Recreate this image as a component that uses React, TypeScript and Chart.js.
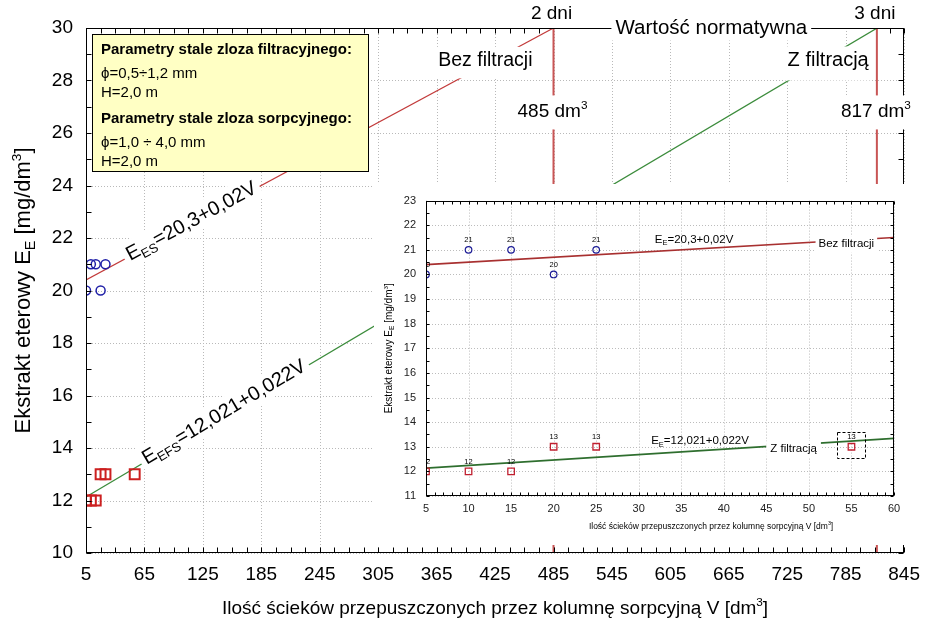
import React, { useEffect, useRef } from "react";
import { Chart, registerables } from "chart.js";

Chart.register(...registerables);

const FONT = "'Liberation Sans', Arial, Helvetica, sans-serif";

// ---------------- data ----------------
const volumeNoFilter = [5, 10, 15, 20, 25];
const extractNoFilter = [20, 21, 21, 20, 21];
const volumeFilter = [5, 10, 15, 20, 25, 55];
const extractFilter = [12, 12, 12, 13, 13, 13];
const fitNoFilter = [20.3, 0.02]; // E = a + b·V
const fitFilter = [12.021, 0.022];
const normativeValue = 30;
const limitVolumes = [485, 817];
const limitDays = ["2 dni", "3 dni"];
const outlierIndex = 5;

const mainXRange = [5, 845];
const mainXStep = 60;
const mainYRange = [10, 30];
const mainYStep = 2;
const insetXRange = [5, 60];
const insetXStep = 5;
const insetYRange = [11, 23];
const insetYStep = 1;

const xTitle = "Ilość ścieków przepuszczonych przez kolumnę sorpcyjną V [dm";
const yTitle = "Ekstrakt eterowy E";
const boxLines = [
  { t: "Parametry stale zloza filtracyjnego:", bold: true },
  { t: "ϕ=0,5÷1,2 mm", bold: false },
  { t: "H=2,0 m", bold: false },
  { t: "Parametry stale zloza sorpcyjnego:", bold: true },
  { t: "ϕ=1,0 ÷ 4,0 mm", bold: false },
  { t: "H=2,0 m", bold: false },
];

// ---------------- helpers ----------------
const fitAt = (fit: number[], v: number) => fit[0] + fit[1] * v;
const fitLine = (fit: number[], v0: number, v1: number) => [
  { x: v0, y: fitAt(fit, v0) },
  { x: v1, y: fitAt(fit, v1) },
];
const pts = (xs: number[], ys: number[]) => xs.map((x, i) => ({ x, y: ys[i] }));
const fmt = (n: number) => String(n).replace(".", ",");

type Seg = { t: string; k?: number; dy?: number };
const SUB = (t: string): Seg => ({ t, k: 0.65, dy: 0.22 });
const SUP = (t: string): Seg => ({ t, k: 0.62, dy: -0.42 });

function setFont(ctx: any, size: number, weight = "") {
  ctx.font = `${weight} ${size}px ${FONT}`.trim();
}
function segsWidth(ctx: any, segs: Seg[], size: number, weight = "") {
  let w = 0;
  for (const s of segs) {
    setFont(ctx, size * (s.k ?? 1), weight);
    w += ctx.measureText(s.t).width;
  }
  return w;
}
function drawSegs(ctx: any, segs: Seg[], x: number, y: number, size: number, align = "center", weight = "") {
  const w = segsWidth(ctx, segs, size, weight);
  let cx = align === "center" ? x - w / 2 : align === "right" ? x - w : x;
  ctx.textAlign = "left";
  ctx.textBaseline = "alphabetic";
  for (const s of segs) {
    setFont(ctx, size * (s.k ?? 1), weight);
    ctx.fillText(s.t, cx, y + (s.dy ?? 0) * size);
    cx += ctx.measureText(s.t).width;
  }
  return w;
}
// text with white background box; baseline at y
function boxedText(ctx: any, segs: Seg[], x: number, y: number, size: number, padX = 3, padTop = 3, padBottom = 3) {
  const w = segsWidth(ctx, segs, size);
  ctx.fillStyle = "#fff";
  ctx.fillRect(x - w / 2 - padX, y - size * 0.78 - padTop, w + 2 * padX, size * 1.0 + padTop + padBottom);
  ctx.fillStyle = "#000";
  drawSegs(ctx, segs, x, y, size);
}
function seg(ctx: any, x1: number, y1: number, x2: number, y2: number) {
  ctx.beginPath();
  ctx.moveTo(x1, y1);
  ctx.lineTo(x2, y2);
  ctx.stroke();
}
function drawGrid(ctx: any, a: any, x: any, y: any, color: string) {
  ctx.save();
  ctx.strokeStyle = color;
  ctx.lineWidth = 1;
  ctx.setLineDash([1, 2]);
  x.ticks.forEach((t: any) => {
    const px = Math.round(x.getPixelForValue(t.value)) + 0.5;
    seg(ctx, px, a.top, px, a.bottom);
  });
  y.ticks.forEach((t: any) => {
    const py = Math.round(y.getPixelForValue(t.value)) + 0.5;
    seg(ctx, a.left, py, a.right, py);
  });
  ctx.restore();
}

// ---------------- main chart ----------------
const mainPlugin = {
  id: "mainDecor",
  beforeDatasetsDraw(chart: any) {
    const { ctx, chartArea: a, scales } = chart;
    drawGrid(ctx, a, scales.x, scales.y, "#b9b9b9");
  },
  afterDatasetsDraw(chart: any) {
    const { ctx, chartArea: a, scales } = chart;
    const x = scales.x, y = scales.y;
    ctx.save();
    ctx.strokeStyle = "#000";
    ctx.lineWidth = 1;
    const L = Math.round(a.left) + 0.5, R = Math.round(a.right) - 0.5;
    const T = Math.round(a.top) + 0.5, B = Math.round(a.bottom) - 0.5;
    ctx.strokeRect(L, T, R - L, B - T);
    for (let v = mainYRange[0]; v <= mainYRange[1]; v += 1) {
      const py = Math.round(y.getPixelForValue(v)) + 0.5;
      seg(ctx, L, py, L + 5, py);
      seg(ctx, R - 5, py, R, py);
    }
    for (let v = mainXRange[0]; v <= mainXRange[1]; v += 15) {
      const px = Math.round(x.getPixelForValue(v)) + 0.5;
      seg(ctx, px, B, px, B - 5);
      if (v < limitVolumes[0] || v > limitVolumes[1]) seg(ctx, px, T, px, T + 5);
    }

    // top annotations
    ctx.fillStyle = "#000";
    limitDays.forEach((d, i) => {
      drawSegs(ctx, [{ t: d }], x.getPixelForValue(limitVolumes[i]) - 2, 19, 19);
    });
    boxedText(ctx, [{ t: "Wartość normatywna" }], x.getPixelForValue(647), 34, 20.5, 4, 1, 2);
    limitVolumes.forEach((v) => {
      boxedText(ctx, [{ t: `${v} dm` }, SUP("3")], x.getPixelForValue(v) - 1, y.getPixelForValue(26.6), 19, 3, 7, 8);
    });
    boxedText(ctx, [{ t: "Bez filtracji" }], x.getPixelForValue(415), y.getPixelForValue(28.55), 19.5, 3, 4, 8);
    boxedText(ctx, [{ t: "Z filtracją" }], x.getPixelForValue(767), y.getPixelForValue(28.55), 20, 3, 4, 10);

    // rotated equation labels
    const rot = (fit: number[], v: number, segs: Seg[], off: number, size: number) => {
      const p1x = x.getPixelForValue(mainXRange[0]), p1y = y.getPixelForValue(fitAt(fit, mainXRange[0]));
      const p2x = x.getPixelForValue(v + 100), p2y = y.getPixelForValue(fitAt(fit, v + 100));
      const ang = Math.atan2(p1y - p2y, p2x - p1x);
      ctx.save();
      ctx.translate(x.getPixelForValue(v), y.getPixelForValue(fitAt(fit, v)));
      ctx.rotate(-ang);
      const w = segsWidth(ctx, segs, size);
      ctx.fillStyle = "#fff";
      ctx.fillRect(-w / 2 - 4, -off - size * 0.62, w + 8, size * 1.3);
      ctx.fillStyle = "#000";
      drawSegs(ctx, segs, 0, -off + size * 0.36, size);
      ctx.restore();
    };
    rot(fitNoFilter, 114, [{ t: "E" }, SUB("ES"), { t: `=${fmt(fitNoFilter[0])}+${fmt(fitNoFilter[1])}V` }], 3, 20);
    rot(fitFilter, 148, [{ t: "E" }, SUB("EFS"), { t: `=${fmt(fitFilter[0])}+${fmt(fitFilter[1])}V` }], 4, 20);

    // info box
    ctx.fillStyle = "#ffffc4";
    ctx.fillRect(92, 34, 276, 137);
    ctx.strokeStyle = "#000";
    ctx.strokeRect(92.5, 34.5, 276, 137);
    ctx.fillStyle = "#000";
    const baselines = [54, 78, 97, 123, 147, 166];
    boxLines.forEach((l, i) => {
      drawSegs(ctx, [{ t: l.t }], 101, baselines[i], 15, "left", l.bold ? "bold" : "");
    });

    // axis titles
    drawSegs(ctx, [{ t: xTitle }, SUP("3"), { t: "]" }], (a.left + a.right) / 2, 614, 19);
    ctx.save();
    ctx.translate(30, (a.top + a.bottom) / 2);
    ctx.rotate(-Math.PI / 2);
    drawSegs(ctx, [{ t: yTitle }, SUB("E"), { t: " [mg/dm" }, SUP("3"), { t: "]" }], 0, 0, 22);
    ctx.restore();
    ctx.restore();
  },
};

function mainConfig(): any {
  return {
    type: "scatter",
    data: {
      datasets: [
        {
          data: pts(volumeNoFilter, extractNoFilter),
          pointStyle: "circle",
          pointRadius: 4.5,
          pointBorderColor: "#2020a8",
          pointBackgroundColor: "rgba(0,0,0,0)",
          pointBorderWidth: 1.5,
          clip: 0,
        },
        {
          data: pts(volumeFilter, extractFilter),
          pointStyle: "rect",
          pointRadius: 7,
          pointBorderColor: "#cc2020",
          pointBackgroundColor: "rgba(0,0,0,0)",
          pointBorderWidth: 2,
          clip: 0,
        },
        {
          data: fitLine(fitNoFilter, mainXRange[0], limitVolumes[0]),
          showLine: true,
          borderColor: "#c23a3a",
          borderWidth: 1.2,
          pointRadius: 0,
        },
        {
          data: fitLine(fitFilter, mainXRange[0], limitVolumes[1]),
          showLine: true,
          borderColor: "#3c8c3c",
          borderWidth: 1.2,
          pointRadius: 0,
        },
        ...limitVolumes.map((v) => ({
          data: [
            { x: v, y: mainYRange[0] },
            { x: v, y: normativeValue },
          ],
          showLine: true,
          borderColor: "#c85555",
          borderWidth: 2,
          pointRadius: 0,
        })),
      ],
    },
    options: {
      responsive: false,
      animation: false,
      devicePixelRatio: 1,
      layout: { padding: { left: 0, top: 28, right: 17, bottom: 0 } },
      plugins: { legend: { display: false }, tooltip: { enabled: false } },
      scales: {
        x: {
          type: "linear",
          min: mainXRange[0],
          max: mainXRange[1],
          ticks: {
            stepSize: mainXStep,
            autoSkip: false,
            maxRotation: 0,
            color: "#000",
            padding: 10,
            font: { family: FONT, size: 19 },
          },
          grid: { display: false, drawTicks: false },
          border: { display: false },
          afterFit: (s: any) => {
            s.height = 73;
          },
        },
        y: {
          type: "linear",
          min: mainYRange[0],
          max: mainYRange[1],
          ticks: {
            stepSize: mainYStep,
            color: "#000",
            padding: 13,
            font: { family: FONT, size: 19 },
          },
          grid: { display: false, drawTicks: false },
          border: { display: false },
          afterFit: (s: any) => {
            s.width = 86;
          },
        },
      },
    },
    plugins: [mainPlugin],
  };
}

// ---------------- inset chart ----------------
const insetPlugin = {
  id: "insetDecor",
  beforeDatasetsDraw(chart: any) {
    const { ctx, chartArea: a, scales } = chart;
    drawGrid(ctx, a, scales.x, scales.y, "#bcbcbc");
  },
  afterDatasetsDraw(chart: any) {
    const { ctx, chartArea: a, scales } = chart;
    const x = scales.x, y = scales.y;
    ctx.save();
    ctx.strokeStyle = "#000";
    ctx.lineWidth = 1;
    const L = Math.round(a.left) + 0.5, R = Math.round(a.right) - 0.5;
    const T = Math.round(a.top) + 0.5, B = Math.round(a.bottom) - 0.5;
    ctx.strokeRect(L, T, R - L, B - T);
    for (let v = insetYRange[0]; v <= insetYRange[1]; v += 0.5) {
      const py = Math.round(y.getPixelForValue(v)) + 0.5;
      seg(ctx, L, py, L + 3, py);
      seg(ctx, R - 3, py, R, py);
    }
    for (let v = insetXRange[0]; v <= insetXRange[1]; v += 1) {
      const px = Math.round(x.getPixelForValue(v)) + 0.5;
      seg(ctx, px, B, px, B - 3);
      seg(ctx, px, T, px, T + 3);
    }

    // value labels above points (clipped to the plot)
    ctx.save();
    ctx.beginPath();
    ctx.rect(a.left, a.top, a.right - a.left, a.bottom - a.top);
    ctx.clip();
    ctx.fillStyle = "#000";
    const lab = (xs: number[], ys: number[]) =>
      xs.forEach((v, i) => {
        drawSegs(ctx, [{ t: String(ys[i]) }], x.getPixelForValue(v), y.getPixelForValue(ys[i]) - 7.5, 7.5);
      });
    lab(volumeNoFilter, extractNoFilter);
    lab(volumeFilter, extractFilter);
    ctx.restore();

    // dashed box around the outlier
    const ox = x.getPixelForValue(volumeFilter[outlierIndex]);
    const oy = y.getPixelForValue(extractFilter[outlierIndex]);
    ctx.save();
    ctx.setLineDash([3, 2]);
    ctx.strokeRect(Math.round(ox - 14) + 0.5, Math.round(oy - 15) + 0.5, 28, 26);
    ctx.restore();

    // equation labels
    ctx.fillStyle = "#000";
    drawSegs(ctx, [{ t: "E" }, SUB("E"), { t: `=${fmt(fitNoFilter[0])}+${fmt(fitNoFilter[1])}V` }], x.getPixelForValue(36.5), y.getPixelForValue(21.45) + 4, 11.5);
    boxedText(ctx, [{ t: "Bez filtracji" }], x.getPixelForValue(54.4), y.getPixelForValue(21.27) + 4, 11.5, 3, 2, 3);
    drawSegs(ctx, [{ t: "E" }, SUB("E"), { t: `=${fmt(fitFilter[0])}+${fmt(fitFilter[1])}V` }], x.getPixelForValue(37.2), y.getPixelForValue(13.27) + 4, 11.5);
    boxedText(ctx, [{ t: "Z filtracją" }], x.getPixelForValue(48.2), y.getPixelForValue(12.95) + 4, 11.5, 4, 2, 3);

    // titles
    drawSegs(ctx, [{ t: xTitle }, SUP("3"), { t: "]" }], x.getPixelForValue(38.5), 345, 8.5);
    ctx.save();
    ctx.translate(18, (a.top + a.bottom) / 2);
    ctx.rotate(-Math.PI / 2);
    drawSegs(ctx, [{ t: yTitle }, SUB("E"), { t: " [mg/dm" }, SUP("3"), { t: "]" }], 0, 0, 10);
    ctx.restore();
    ctx.restore();
  },
};

function insetConfig(): any {
  return {
    type: "scatter",
    data: {
      datasets: [
        {
          data: pts(volumeNoFilter, extractNoFilter),
          pointStyle: "circle",
          pointRadius: 3.3,
          pointBorderColor: "#1c1c96",
          pointBackgroundColor: "rgba(0,0,0,0)",
          pointBorderWidth: 1.2,
          clip: 0,
        },
        {
          data: pts(volumeFilter, extractFilter),
          pointStyle: "rect",
          pointRadius: 4.6,
          pointBorderColor: "#c02030",
          pointBackgroundColor: "rgba(0,0,0,0)",
          pointBorderWidth: 1.3,
          clip: 0,
        },
        {
          data: fitLine(fitNoFilter, insetXRange[0], insetXRange[1]),
          showLine: true,
          borderColor: "#a83030",
          borderWidth: 1.6,
          pointRadius: 0,
        },
        {
          data: fitLine(fitFilter, insetXRange[0], insetXRange[1]),
          showLine: true,
          borderColor: "#2e6e2e",
          borderWidth: 1.6,
          pointRadius: 0,
        },
      ],
    },
    options: {
      responsive: false,
      animation: false,
      devicePixelRatio: 1,
      layout: { padding: { left: 0, top: 16, right: 14, bottom: 0 } },
      plugins: { legend: { display: false }, tooltip: { enabled: false } },
      scales: {
        x: {
          type: "linear",
          min: insetXRange[0],
          max: insetXRange[1],
          ticks: {
            stepSize: insetXStep,
            autoSkip: false,
            maxRotation: 0,
            color: "#222",
            padding: 6,
            font: { family: FONT, size: 11 },
          },
          grid: { display: false, drawTicks: false },
          border: { display: false },
          afterFit: (s: any) => {
            s.height = 49;
          },
        },
        y: {
          type: "linear",
          min: insetYRange[0],
          max: insetYRange[1],
          ticks: {
            stepSize: insetYStep,
            color: "#222",
            padding: 10,
            font: { family: FONT, size: 11 },
          },
          grid: { display: false, drawTicks: false },
          border: { display: false },
          afterFit: (s: any) => {
            s.width = 52;
          },
        },
      },
    },
    plugins: [insetPlugin],
  };
}

export default function App() {
  const mainRef = useRef<HTMLCanvasElement>(null);
  const insetRef = useRef<HTMLCanvasElement>(null);
  useEffect(() => {
    const main = new Chart(mainRef.current as any, mainConfig());
    const inset = new Chart(insetRef.current as any, insetConfig());
    return () => {
      main.destroy();
      inset.destroy();
    };
  }, []);
  return (
    <div style={{ position: "absolute", left: 0, top: 0, width: 930, height: 626, background: "#fff" }}>
      <canvas
        ref={mainRef}
        width={930}
        height={626}
        style={{ position: "absolute", left: 0, top: 0, width: 930, height: 626 }}
      />
      <canvas
        ref={insetRef}
        width={534}
        height={361}
        style={{ position: "absolute", left: 374, top: 184, width: 534, height: 361, background: "#fff" }}
      />
    </div>
  );
}
